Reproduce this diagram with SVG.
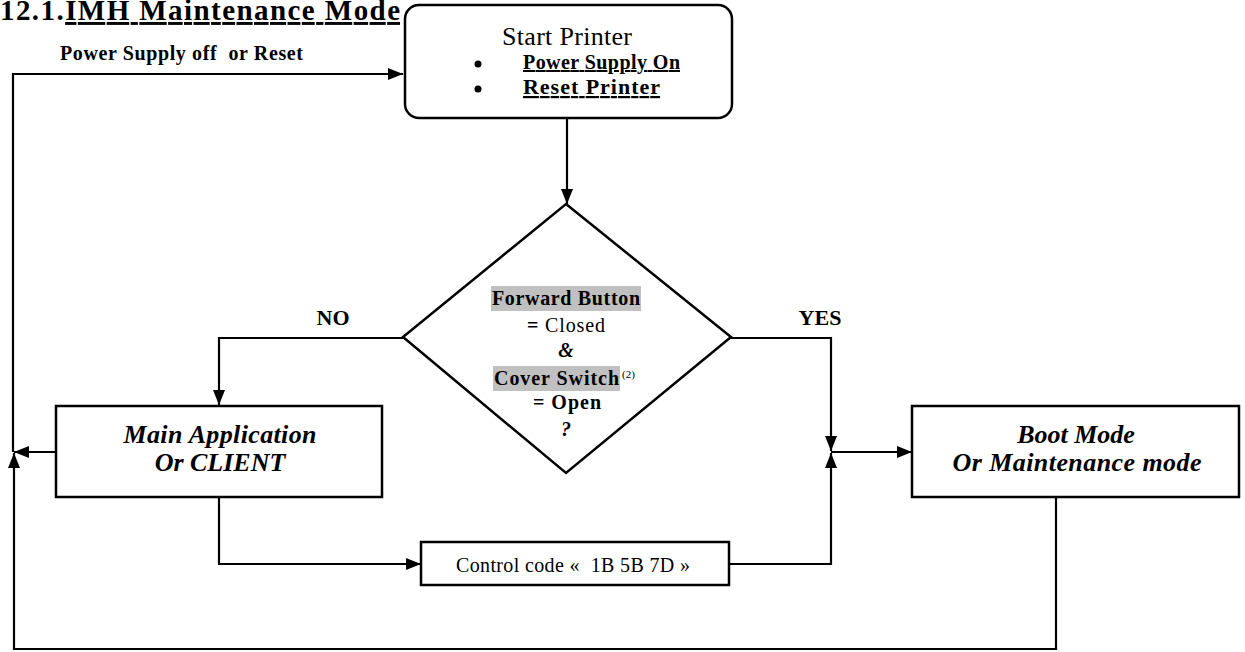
<svg xmlns="http://www.w3.org/2000/svg" width="1245" height="652" viewBox="0 0 1245 652">
  <style>
    text { font-family: "Liberation Serif", "Times New Roman", serif; fill: #000; }
    .b { font-weight: bold; }
    .bi { font-weight: bold; font-style: italic; }
    .r { font-weight: normal; }
    .u { text-decoration: underline; }
    .box { fill: #fff; stroke: #000; stroke-width: 2.5; }
    .wire { fill: none; stroke: #000; stroke-width: 2.2; }
    .hl { fill: #c0c0c0; }
  </style>
  <defs>
    <marker id="arrow" viewBox="0 0 15 12" refX="15" refY="6" markerWidth="15" markerHeight="12" markerUnits="userSpaceOnUse" orient="auto">
      <path d="M0,0 L15,6 L0,12 Z" fill="#000"/>
    </marker>
  </defs>

  <!-- section heading -->
  <text class="b" x="0" y="20" font-size="29" textLength="400" lengthAdjust="spacing">12.1.<tspan class="u">IMH Maintenance Mode</tspan></text>

  <!-- connectors -->
  <g id="connectors">
    <!-- power off / reset loop back to start -->
    <path class="wire" d="M13,452 V74 H403" marker-end="url(#arrow)"/>
    <!-- main application back to left rail -->
    <path class="wire" d="M57,452 H14" marker-end="url(#arrow)"/>
    <!-- boot mode bottom return -->
    <path class="wire" d="M1056,497 V649 H14 V453" marker-end="url(#arrow)"/>
    <!-- start to decision -->
    <path class="wire" d="M567,118 V204" marker-end="url(#arrow)"/>
    <!-- NO branch -->
    <path class="wire" d="M403,338 H219 V405" marker-end="url(#arrow)"/>
    <!-- YES branch -->
    <path class="wire" d="M731,338 H831 V451" marker-end="url(#arrow)"/>
    <!-- junction to boot mode -->
    <path class="wire" d="M831,452 H912" marker-end="url(#arrow)"/>
    <!-- main application to control code -->
    <path class="wire" d="M219,497 V564 H421" marker-end="url(#arrow)"/>
    <!-- control code to junction -->
    <path class="wire" d="M729,564 H831 V453" marker-end="url(#arrow)"/>

    <text class="b" x="60" y="60" font-size="20" textLength="243" lengthAdjust="spacing">Power Supply off&#160; or Reset</text>
    <text class="b" x="333" y="325" font-size="22" text-anchor="middle">NO</text>
    <text class="b" x="820" y="325" font-size="22" text-anchor="middle">YES</text>
  </g>

  <!-- start node -->
  <g id="start">
    <rect class="box" x="405" y="5" width="327" height="113" rx="14" ry="14"/>
    <text x="567" y="45" font-size="26" text-anchor="middle" textLength="130" lengthAdjust="spacing">Start Printer</text>
    <circle cx="478" cy="64" r="3.5"/>
    <circle cx="478" cy="89" r="3.5"/>
    <text class="b u" x="523" y="69" font-size="20" textLength="157" lengthAdjust="spacing">Power Supply On</text>
    <text class="b u" x="523" y="94" font-size="22" textLength="137" lengthAdjust="spacing">Reset Printer</text>
  </g>

  <!-- decision node -->
  <g id="decision">
    <polygon class="box" points="566,204 731,337 566,473 403,337"/>
    <rect class="hl" x="491" y="286" width="150" height="25"/>
    <text class="b" x="492" y="305" font-size="20" textLength="148" lengthAdjust="spacing">Forward Button</text>
    <text class="b" x="527" y="332" font-size="20" textLength="78" lengthAdjust="spacing">= <tspan class="r">Closed</tspan></text>
    <text class="bi" x="566" y="357" font-size="20" text-anchor="middle">&amp;</text>
    <rect class="hl" x="493" y="366" width="127" height="25"/>
    <text class="b" x="494" y="385" font-size="20" textLength="125" lengthAdjust="spacing">Cover Switch</text>
    <text x="622" y="378" font-size="11">(2)</text>
    <text class="b" x="533" y="409" font-size="20" textLength="68" lengthAdjust="spacing">= Open</text>
    <text class="bi" x="566" y="436" font-size="20" text-anchor="middle">?</text>
  </g>

  <!-- main application node -->
  <g id="main-app">
    <rect class="box" x="56" y="406" width="326" height="91"/>
    <text class="bi" x="220" y="443" font-size="26" text-anchor="middle" textLength="193" lengthAdjust="spacing">Main Application</text>
    <text class="bi" x="220" y="471" font-size="26" text-anchor="middle">Or CLIENT</text>
  </g>

  <!-- boot / maintenance node -->
  <g id="boot-mode">
    <rect class="box" x="912" y="406" width="327" height="91"/>
    <text class="bi" x="1076" y="443" font-size="26" text-anchor="middle">Boot Mode</text>
    <text class="bi" x="1077" y="471" font-size="26" text-anchor="middle" textLength="249" lengthAdjust="spacing">Or Maintenance mode</text>
  </g>

  <!-- control code node -->
  <g id="control-code">
    <rect class="box" x="421" y="542" width="308" height="43"/>
    <text x="456" y="572" font-size="20" textLength="234" lengthAdjust="spacing">Control code «&#160; 1B 5B 7D »</text>
  </g>
</svg>
